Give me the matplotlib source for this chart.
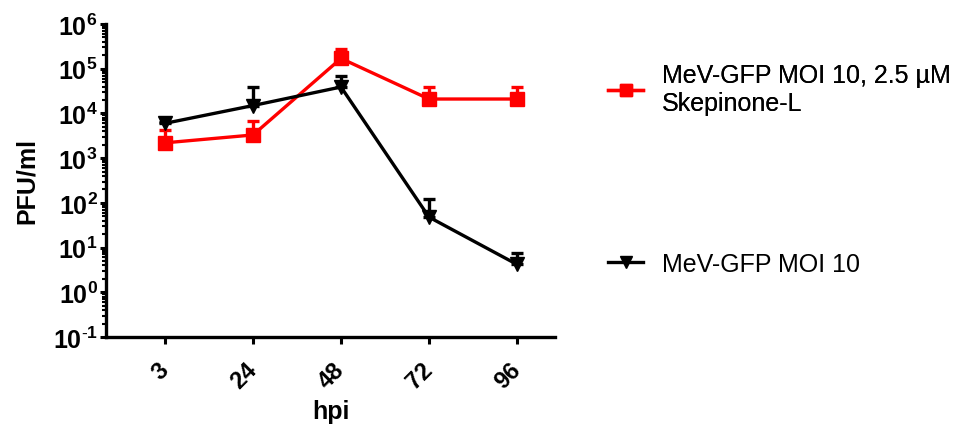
import matplotlib
matplotlib.use('Agg')
import matplotlib.pyplot as plt
import numpy as np
from matplotlib.ticker import FixedLocator, FuncFormatter, LogLocator, NullFormatter
from matplotlib.lines import Line2D

plt.rcParams['font.family'] = ['Liberation Sans', 'DejaVu Sans']
plt.rcParams['mathtext.fontset'] = 'custom'
plt.rcParams['mathtext.rm'] = 'Liberation Sans'
plt.rcParams['mathtext.bf'] = 'Liberation Sans:bold'

# data
hpi = ['3', '24', '48', '72', '96']
skep_mean = [2200, 3300, 1.7e5, 2.1e4, 2.1e4]
skep_top = [4200, 6700, 2.7e5, 3.9e4, 3.9e4]
moi_mean = [6000, 1.5e4, 3.9e4, 48, 4.2]
moi_top = [6500, 3.9e4, 6.8e4, 120, 7.5]

skep_label = 'MeV-GFP MOI 10, 2.5 µM\nSkepinone-L'
moi_label = 'MeV-GFP MOI 10'

fig = plt.figure(figsize=(9.71, 4.27), dpi=100)
# axes box: y axis at x=106, top (1e6) at y=25, bottom (1e-1) at y=338, right end ~555
ax = fig.add_axes([106/971, 1-338/427, 449/971, 313/427])

x = np.arange(len(hpi))

def upper(mean, top):
    mean = np.array(mean); top = np.array(top)
    return [np.zeros_like(mean), top - mean]

# red series
ax.errorbar(x, skep_mean, yerr=upper(skep_mean, skep_top), color='#ff0000',
            marker='s', markersize=10, linewidth=2.4, elinewidth=2.4,
            capsize=4.5, capthick=2.4, zorder=3)
# black series
ax.errorbar(x, moi_mean, yerr=upper(moi_mean, moi_top), color='black',
            marker='v', markersize=10.5, linewidth=2.4, elinewidth=2.4,
            capsize=4.5, capthick=2.4, zorder=4)

ax.set_yscale('log')
ax.set_ylim(0.1, 1e6)
# categories at x=165 + 88*i px
ax.set_xlim(-59/88, (555-165)/88)


def exp_label(v, p):
    k = int(round(np.log10(v)))
    if k < 0:
        return r'$\mathbf{10^{\text{-}%d}}$' % (-k)
    return r'$\mathbf{10^{%d}}$' % k


ax.yaxis.set_major_locator(FixedLocator([10.0**k for k in range(-1, 7)]))
ax.yaxis.set_major_formatter(FuncFormatter(exp_label))
ax.yaxis.set_minor_locator(LogLocator(base=10, subs=np.arange(2, 10), numticks=20))
ax.yaxis.set_minor_formatter(NullFormatter())

ax.set_xticks(x)
ax.set_xticklabels(hpi, rotation=45, fontsize=17, fontweight='bold',
                   ha='right', va='center', rotation_mode='anchor')

for s in ['top', 'right']:
    ax.spines[s].set_visible(False)
for s in ['left', 'bottom']:
    ax.spines[s].set_linewidth(2.4)

ax.tick_params(axis='y', which='major', length=4, width=2.2, labelsize=18, direction='out', pad=2)
ax.tick_params(axis='y', which='minor', length=3, width=1.5, direction='out')
ax.tick_params(axis='x', length=5, width=2.2, direction='out', pad=16)

ax.set_xlabel('hpi', fontsize=18, fontweight='bold', labelpad=4)
ax.set_ylabel('PFU/ml', fontsize=18, fontweight='bold', labelpad=10)

# legends (two separate entries placed far apart)
h_red = Line2D([], [], color='#ff0000', marker='s', markersize=9, linewidth=2.4)
h_blk = Line2D([], [], color='black', marker='v', markersize=9, linewidth=2.4)
leg1 = fig.legend([h_red], [skep_label], loc='center left',
                  bbox_to_anchor=(608/971, 1-90/427), frameon=False,
                  fontsize=18, handlelength=1.4, handletextpad=0.75,
                  borderaxespad=0, borderpad=0)
fig.add_artist(leg1)
fig.legend([h_blk], [moi_label], loc='center left',
           bbox_to_anchor=(608/971, 1-265/427), frameon=False,
           fontsize=18, handlelength=1.4, handletextpad=0.75,
           borderaxespad=0, borderpad=0)

fig.savefig('out.png', dpi=100)
